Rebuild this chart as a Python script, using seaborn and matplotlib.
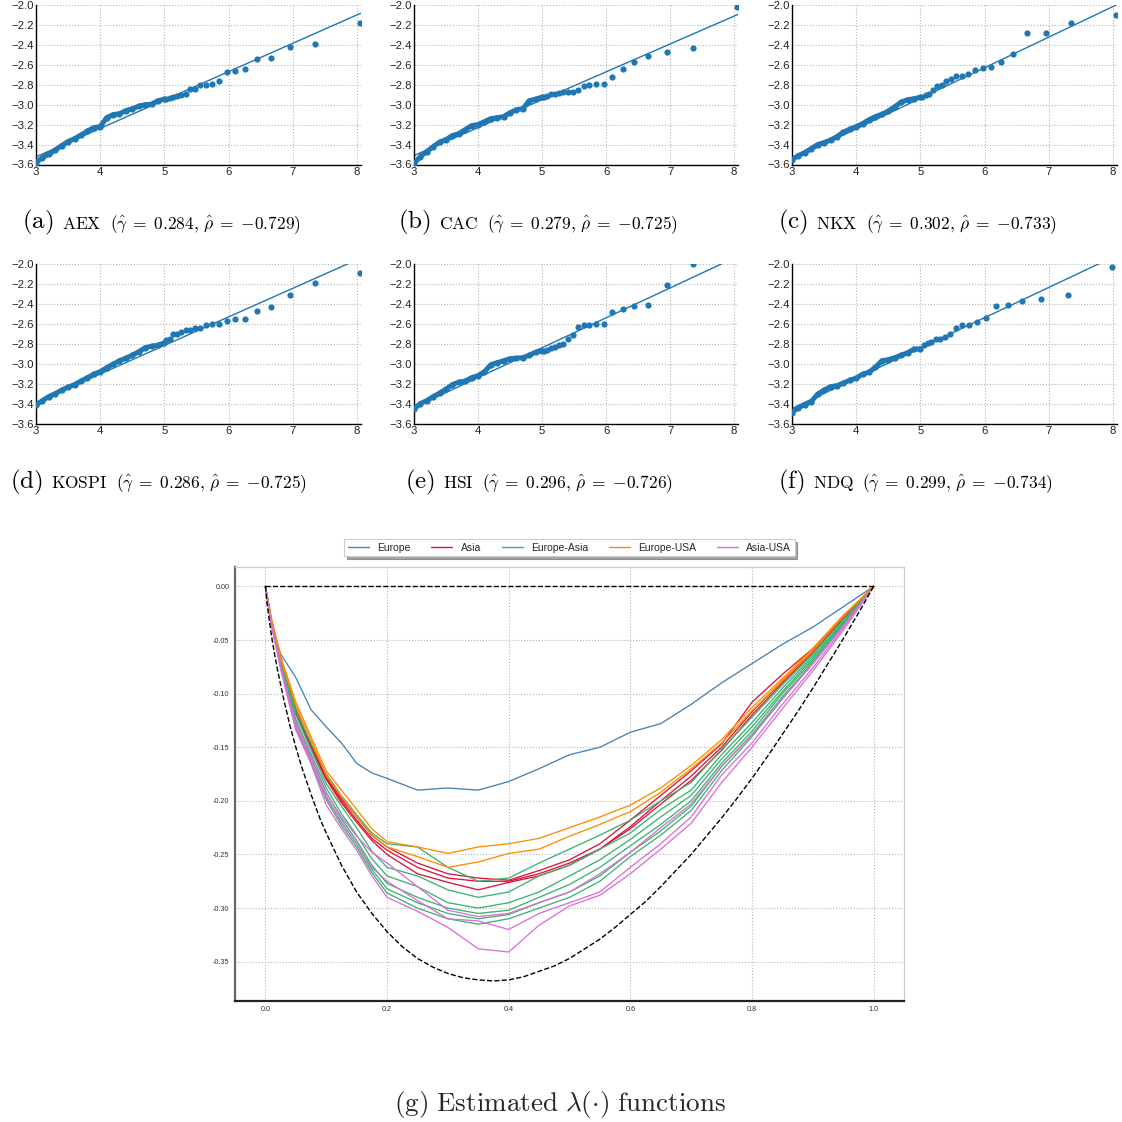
import matplotlib
matplotlib.use('Agg')
import matplotlib.pyplot as plt
import seaborn as sns
from matplotlib.lines import Line2D
from matplotlib.ticker import FuncFormatter
from matplotlib.offsetbox import TextArea, HPacker, AnchoredOffsetbox


# ---- QQ style panels (a)-(f) ------------------------------------------
# x positions of the 20 largest order statistics, then a 0.1 grid below
TAIL_X = [8.05, 7.35, 6.95, 6.66, 6.44, 6.26, 6.10, 5.97, 5.85, 5.74,
          5.65, 5.56, 5.48, 5.40, 5.33, 5.26, 5.20, 5.14, 5.08, 5.03]
HSI_TAIL_X = [7.35, 6.95, 6.66, 6.44, 6.26, 6.10, 5.97, 5.85, 5.74,
              5.65, 5.56, 5.48, 5.40, 5.33, 5.26, 5.20, 5.14, 5.08, 5.03]
NDQ_TAIL_X = [7.98, 7.29, 6.87, 6.58, 6.36, 6.17, 6.02, 5.88, 5.76, 5.65,
              5.55, 5.46, 5.38, 5.31, 5.24, 5.17, 5.11, 5.05]
BODY_X = [5.0, 4.9, 4.8, 4.7, 4.6, 4.5, 4.4, 4.3, 4.2, 4.1, 4.0,
          3.9, 3.8, 3.7, 3.6, 3.5, 3.4, 3.3, 3.2, 3.1, 3.0]

AEX_TAIL = [-2.18, -2.39, -2.425, -2.53, -2.545, -2.64, -2.665, -2.675,
            -2.76, -2.79, -2.80, -2.80, -2.84, -2.84, -2.89, -2.90, -2.91,
            -2.925, -2.93, -2.94]
AEX_BODY = [-2.945, -2.96, -2.995, -3.00, -3.015, -3.04, -3.06, -3.09,
            -3.10, -3.13, -3.22, -3.23, -3.265, -3.305, -3.34, -3.37,
            -3.41, -3.455, -3.495, -3.53, -3.58]
CAC_TAIL = [-2.02, -2.43, -2.47, -2.51, -2.57, -2.645, -2.72, -2.79,
            -2.79, -2.80, -2.815, -2.85, -2.875, -2.875, -2.875, -2.88,
            -2.89, -2.895, -2.91, -2.92]
CAC_BODY = [-2.925, -2.945, -2.96, -3.04, -3.05, -3.08, -3.12, -3.13,
            -3.14, -3.17, -3.20, -3.21, -3.25, -3.29, -3.31, -3.35,
            -3.375, -3.42, -3.47, -3.52, -3.59]
NKX_TAIL = [-2.10, -2.185, -2.28, -2.285, -2.49, -2.57, -2.625, -2.635,
            -2.65, -2.69, -2.71, -2.715, -2.74, -2.765, -2.80, -2.815,
            -2.855, -2.89, -2.90, -2.92]
NKX_BODY = [-2.925, -2.94, -2.95, -2.975, -3.02, -3.065, -3.095, -3.12,
            -3.15, -3.19, -3.22, -3.245, -3.275, -3.32, -3.355, -3.38,
            -3.40, -3.44, -3.48, -3.51, -3.55]
KOSPI_TAIL = [-2.09, -2.19, -2.31, -2.435, -2.47, -2.55, -2.555, -2.575,
              -2.60, -2.605, -2.61, -2.64, -2.645, -2.66, -2.665, -2.68,
              -2.70, -2.705, -2.75, -2.765]
KOSPI_BODY = [-2.79, -2.815, -2.825, -2.84, -2.88, -2.915, -2.945, -2.97,
              -3.005, -3.04, -3.08, -3.105, -3.14, -3.175, -3.21, -3.235,
              -3.265, -3.30, -3.33, -3.37, -3.415]
HSI_TAIL = [-2.00, -2.21, -2.415, -2.42, -2.45, -2.485, -2.60, -2.60,
            -2.615, -2.615, -2.63, -2.71, -2.755, -2.805, -2.81, -2.835,
            -2.845, -2.865, -2.87]
HSI_BODY = [-2.87, -2.885, -2.915, -2.94, -2.945, -2.95, -2.97, -2.99,
            -3.01, -3.08, -3.12, -3.14, -3.175, -3.185, -3.21, -3.255,
            -3.295, -3.33, -3.37, -3.40, -3.455]
NDQ_TAIL = [-2.035, -2.315, -2.35, -2.37, -2.415, -2.425, -2.54, -2.585,
            -2.61, -2.615, -2.64, -2.70, -2.735, -2.75, -2.755, -2.785,
            -2.795, -2.815]
NDQ_BODY = [-2.85, -2.855, -2.89, -2.915, -2.94, -2.96, -2.97, -3.035,
            -3.085, -3.105, -3.145, -3.165, -3.195, -3.22, -3.23, -3.265,
            -3.305, -3.38, -3.41, -3.44, -3.49]

NAMES = ['AEX', 'CAC', 'NKX', 'KOSPI', 'HSI', 'NDQ']
LETTERS = ['a', 'b', 'c', 'd', 'e', 'f']
GAMMA = ['0.284', '0.279', '0.302', '0.286', '0.296', '0.299']
RHO = ['0.729', '0.725', '0.733', '0.725', '0.726', '0.734']
TAILS_X = [TAIL_X, TAIL_X, TAIL_X, TAIL_X, HSI_TAIL_X, NDQ_TAIL_X]
TAILS_Y = [AEX_TAIL, CAC_TAIL, NKX_TAIL, KOSPI_TAIL, HSI_TAIL, NDQ_TAIL]
BODIES_Y = [AEX_BODY, CAC_BODY, NKX_BODY, KOSPI_BODY, HSI_BODY, NDQ_BODY]
# fitted line, value at x = 3 and at x = 8.1
FIT_X = [3.0, 8.1]
FIT_Y0 = [-3.523, -3.51, -3.55, -3.39, -3.44, -3.45]
FIT_Y1 = [-2.07, -2.083, -1.984, -1.928, -1.91, -1.90]

X_TICKS = [3, 4, 5, 6, 7, 8]
Y_TICKS = [-3.6, -3.4, -3.2, -3.0, -2.8, -2.6, -2.4, -2.2, -2.0]

# ---- estimated lambda functions (g) -----------------------------------
T_GRID = [0.0, 0.01, 0.025, 0.05, 0.075, 0.1, 0.125, 0.15, 0.175, 0.2,
          0.25, 0.3, 0.35, 0.4, 0.45, 0.5, 0.55, 0.6, 0.65, 0.7, 0.75, 0.8,
          0.85, 0.9, 0.95, 1.0]
EUROPE = [
    [0, -0.034, -0.063, -0.085, -0.115, -0.131, -0.146, -0.165, -0.174,
     -0.179, -0.19, -0.188, -0.19, -0.182, -0.17, -0.157, -0.15, -0.136,
     -0.128, -0.11, -0.09, -0.072, -0.054, -0.038, -0.019, 0],
]
ASIA = [
    [0, -0.032, -0.068, -0.114, -0.148, -0.177, -0.198, -0.215, -0.232,
     -0.243, -0.258, -0.268, -0.272, -0.274, -0.265, -0.255, -0.24, -0.218,
     -0.195, -0.172, -0.147, -0.108, -0.082, -0.058, -0.028, 0],
    [0, -0.032, -0.069, -0.116, -0.15, -0.179, -0.2, -0.218, -0.235,
     -0.246, -0.262, -0.272, -0.275, -0.275, -0.268, -0.258, -0.245, -0.224,
     -0.2, -0.177, -0.15, -0.117, -0.088, -0.06, -0.03, 0],
    [0, -0.033, -0.07, -0.118, -0.151, -0.18, -0.202, -0.22, -0.237,
     -0.25, -0.268, -0.276, -0.283, -0.276, -0.27, -0.26, -0.245, -0.226,
     -0.203, -0.181, -0.153, -0.12, -0.09, -0.062, -0.031, 0],
]
EUROPE_ASIA = [
    [0, -0.033, -0.068, -0.116, -0.146, -0.175, -0.195, -0.213, -0.23,
     -0.24, -0.243, -0.262, -0.275, -0.272, -0.258, -0.245, -0.232, -0.218,
     -0.2, -0.183, -0.152, -0.122, -0.092, -0.063, -0.031, 0],
    [0, -0.034, -0.07, -0.12, -0.152, -0.184, -0.205, -0.225, -0.247,
     -0.262, -0.27, -0.283, -0.29, -0.285, -0.27, -0.26, -0.245, -0.23,
     -0.208, -0.19, -0.157, -0.127, -0.095, -0.065, -0.033, 0],
    [0, -0.034, -0.071, -0.124, -0.156, -0.188, -0.212, -0.232, -0.254,
     -0.27, -0.28, -0.295, -0.30, -0.295, -0.285, -0.27, -0.255, -0.236,
     -0.215, -0.195, -0.161, -0.131, -0.098, -0.067, -0.034, 0],
    [0, -0.035, -0.073, -0.127, -0.16, -0.192, -0.217, -0.237, -0.26,
     -0.277, -0.29, -0.30, -0.305, -0.302, -0.29, -0.278, -0.262, -0.242,
     -0.222, -0.2, -0.165, -0.135, -0.1, -0.069, -0.035, 0],
    [0, -0.035, -0.074, -0.13, -0.163, -0.196, -0.22, -0.24, -0.264,
     -0.282, -0.295, -0.305, -0.31, -0.306, -0.295, -0.285, -0.27, -0.248,
     -0.228, -0.205, -0.168, -0.138, -0.103, -0.071, -0.036, 0],
    [0, -0.036, -0.075, -0.132, -0.165, -0.199, -0.223, -0.243, -0.267,
     -0.286, -0.30, -0.31, -0.315, -0.31, -0.30, -0.29, -0.275, -0.252,
     -0.232, -0.209, -0.172, -0.14, -0.105, -0.072, -0.037, 0],
]
EUROPE_USA = [
    [0, -0.030, -0.065, -0.108, -0.14, -0.172, -0.19, -0.208, -0.226,
     -0.238, -0.243, -0.249, -0.243, -0.240, -0.235, -0.225, -0.215, -0.204,
     -0.188, -0.167, -0.143, -0.113, -0.086, -0.058, -0.027, 0],
    [0, -0.031, -0.067, -0.111, -0.143, -0.176, -0.196, -0.215, -0.232,
     -0.243, -0.252, -0.262, -0.257, -0.249, -0.245, -0.233, -0.222, -0.21,
     -0.192, -0.17, -0.146, -0.116, -0.088, -0.06, -0.028, 0],
]
ASIA_USA = [
    [0, -0.035, -0.074, -0.128, -0.158, -0.193, -0.215, -0.233, -0.248,
     -0.258, -0.28, -0.302, -0.308, -0.305, -0.295, -0.285, -0.268, -0.248,
     -0.225, -0.203, -0.168, -0.138, -0.104, -0.072, -0.037, 0],
    [0, -0.036, -0.076, -0.131, -0.162, -0.198, -0.22, -0.24, -0.262,
     -0.275, -0.293, -0.31, -0.312, -0.32, -0.305, -0.295, -0.285, -0.262,
     -0.24, -0.215, -0.176, -0.146, -0.11, -0.076, -0.039, 0],
    [0, -0.036, -0.077, -0.134, -0.165, -0.204, -0.226, -0.246, -0.27,
     -0.29, -0.303, -0.318, -0.338, -0.341, -0.316, -0.298, -0.288, -0.268,
     -0.245, -0.221, -0.183, -0.15, -0.114, -0.079, -0.041, 0],
]
REGIONS = ['Europe', 'Asia', 'Europe-Asia', 'Europe-USA', 'Asia-USA']
REGION_CURVES = [EUROPE, ASIA, EUROPE_ASIA, EUROPE_USA, ASIA_USA]
REGION_COLORS = ['steelblue', 'crimson', 'mediumseagreen', 'darkorange',
                 'orchid']
# lower bound of lambda
BOUND_T = [0, 0.0025, 0.005, 0.01, 0.015, 0.02, 0.03, 0.04, 0.05, 0.06,
           0.075, 0.09, 0.1, 0.125, 0.15, 0.175, 0.2, 0.225, 0.25, 0.275,
           0.3, 0.325, 0.35, 0.375, 0.4, 0.425, 0.45, 0.475, 0.5, 0.525,
           0.55, 0.575, 0.6, 0.625, 0.65, 0.675, 0.7, 0.725, 0.75, 0.775,
           0.8, 0.825, 0.85, 0.875, 0.9, 0.925, 0.95, 0.975, 1.0]
BOUND_V = [0, -0.015, -0.026, -0.046, -0.063, -0.078, -0.105, -0.129,
           -0.150, -0.169, -0.194, -0.217, -0.230, -0.260, -0.285, -0.305,
           -0.322, -0.336, -0.347, -0.355, -0.361, -0.365, -0.367, -0.368,
           -0.367, -0.364, -0.359, -0.354, -0.347, -0.338, -0.329, -0.318,
           -0.306, -0.294, -0.280, -0.265, -0.250, -0.233, -0.216, -0.198,
           -0.179, -0.159, -0.138, -0.117, -0.095, -0.072, -0.049, -0.025,
           0]
UPPER_T = [0.0, 1.0]
UPPER_V = [0.0, 0.0]
G_XTICKS = [0.0, 0.2, 0.4, 0.6, 0.8, 1.0]
G_YTICKS = [0.0, -0.05, -0.10, -0.15, -0.20, -0.25, -0.30, -0.35]

SIZE = 1122
BLUE = '#1f77b4'


def rect(x0, y0, x1, y1):
    '''pixel box (top-left origin) -> figure fraction rect'''
    return [x0 / SIZE, 1 - y1 / SIZE, (x1 - x0) / SIZE, (y1 - y0) / SIZE]


def caption(fig, parts, x, y):
    '''
    Places a caption made of (text, size) pieces, left edge at x and
    vertically centred on y (pixels).
    '''
    areas = [TextArea(t, textprops=dict(size=s, color='black'))
             for t, s in parts]
    box = HPacker(children=areas, align='baseline', pad=0, sep=6)
    anchored = AnchoredOffsetbox(loc='center left', child=box, pad=0,
                                 borderpad=0, frameon=False,
                                 bbox_to_anchor=(x / SIZE, 1 - y / SIZE),
                                 bbox_transform=fig.transFigure)
    fig.add_artist(anchored)


def qq_panel(fig, i, box):
    ax = fig.add_axes(box)
    tx, ty, by = TAILS_X[i], TAILS_Y[i], BODIES_Y[i]
    ax.plot(FIT_X, [FIT_Y0[i], FIT_Y1[i]], color=BLUE, lw=1.0, zorder=2)
    ax.plot(BODY_X, by, color=BLUE, lw=3.6, solid_capstyle='round',
            zorder=3)
    sns.scatterplot(x=tx + BODY_X, y=ty + by, ax=ax, s=20, color=BLUE,
                    linewidth=0, zorder=4)
    ax.set_xlim(3, 8.06)
    ax.set_ylim(-3.6, -2.0)
    ax.set_xticks(X_TICKS)
    ax.set_yticks(Y_TICKS)
    ax.set_xlabel('')
    ax.set_ylabel('')
    ax.grid(True, ls=':', lw=0.8, color='#b5b5b5')
    for side in ['top', 'right']:
        ax.spines[side].set_visible(False)
    for side in ['left', 'bottom']:
        ax.spines[side].set_color('black')
        ax.spines[side].set_linewidth(1.0)
    ax.tick_params(length=0, pad=1.5, labelsize=8.2, colors='#222222')
    return ax


def lambda_panel(fig, box):
    ax = fig.add_axes(box)
    for curves, color in zip(REGION_CURVES, REGION_COLORS):
        for curve in curves:
            sns.lineplot(x=T_GRID, y=curve, ax=ax, color=color, lw=0.95,
                         sort=False, estimator=None)
    ax.plot(BOUND_T, BOUND_V, color='black', ls='--', lw=1.0)
    ax.plot(UPPER_T, UPPER_V, color='black', ls='--', lw=1.0)
    ax.set_xticks(G_XTICKS)
    ax.set_yticks(G_YTICKS)
    ax.xaxis.set_major_formatter(FuncFormatter(lambda v, p: '%.1f' % v))
    ax.yaxis.set_major_formatter(FuncFormatter(lambda v, p: '%.2f' % v))
    ax.margins(0.05)
    ax.grid(True, ls=':', lw=0.8, color='#b5b5b5')
    ax.tick_params(length=0, pad=4, labelsize=5.2, colors='#333333')
    ax.spines['left'].set_color('#666666')
    ax.spines['left'].set_linewidth(1.6)
    ax.spines['bottom'].set_color('#222222')
    ax.spines['bottom'].set_linewidth(1.6)
    for side in ['top', 'right']:
        ax.spines[side].set_color('#cccccc')
        ax.spines[side].set_linewidth(0.9)
    handles = [Line2D([], [], color=c, lw=1.0) for c in REGION_COLORS]
    leg = ax.legend(handles, REGIONS, loc='lower center',
                    bbox_to_anchor=(0.5, 1.012), ncol=5, fontsize=7.5,
                    frameon=True, fancybox=False, shadow=True,
                    borderpad=0.35, handlelength=2.0, columnspacing=2.0)
    leg.get_frame().set_edgecolor('#cccccc')
    leg.get_frame().set_linewidth(0.8)
    return ax


def main():
    sns.set_theme(style='white')
    plt.rcParams['font.family'] = ['Liberation Sans', 'DejaVu Sans']
    plt.rcParams['mathtext.fontset'] = 'cm'

    fig = plt.figure(figsize=(SIZE / 100, SIZE / 100), dpi=100)
    cols = [(36, 361), (414, 738), (792, 1117)]
    rows = [(5, 164.5), (264, 423.5)]
    cap_x = [22, 398, 778, 10, 405, 778]
    cap_y = [222.7, 222.7, 222.7, 482, 482, 482]
    for i in range(6):
        r, c = divmod(i, 3)
        qq_panel(fig, i, rect(cols[c][0], rows[r][0], cols[c][1],
                               rows[r][1]))
        parts = [(r'$\mathrm{(%s)}$' % LETTERS[i], 18),
                 (r'$\mathrm{%s}$' % NAMES[i], 12.5),
                 (r'$(\hat{\gamma}\;=\;%s,\,\hat{\rho}\;=\;{-}%s)$'
                  % (GAMMA[i], RHO[i]), 12.5)]
        caption(fig, parts, cap_x[i], cap_y[i])

    lambda_panel(fig, rect(235, 566.7, 904, 1000.7))
    fig.text(0.499, 1 - 1104 / SIZE,
             r'$\mathrm{(g)\ Estimated\ }\lambda(\cdot)\mathrm{\ functions}$',
             ha='center', va='center', fontsize=19.5)
    fig.savefig('out.png', dpi=100)


if __name__ == '__main__':
    main()
